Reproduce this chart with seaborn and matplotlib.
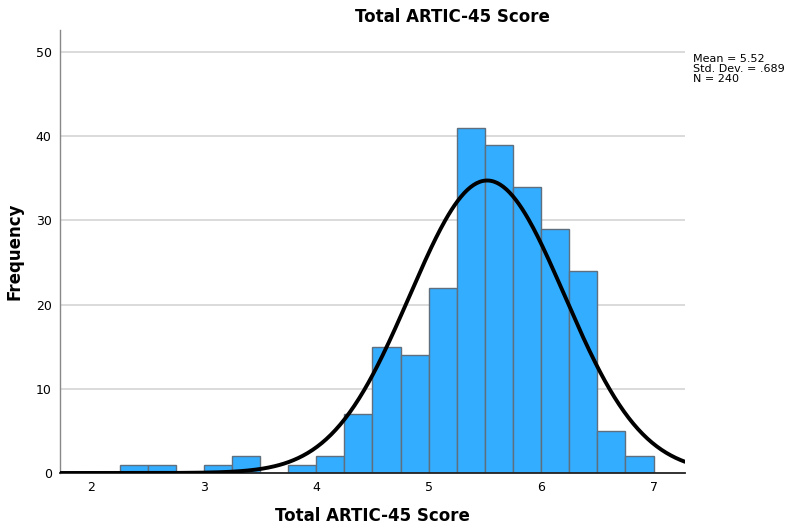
import numpy as np
import pandas as pd
import matplotlib
matplotlib.use("Agg")
import matplotlib.pyplot as plt
import seaborn as sns

# histogram bins (width .25) and counts
bin_left = [2.25, 2.50, 2.75, 3.00, 3.25, 3.50, 3.75, 4.00, 4.25, 4.50,
            4.75, 5.00, 5.25, 5.50, 5.75, 6.00, 6.25, 6.50, 6.75]
counts = [1, 1, 0, 1, 2, 0, 1, 2, 7, 15, 14, 22, 41, 39, 34, 29, 24, 5, 2]
bin_width = 0.25

mean = 5.52
sd = 0.689
n = 240

x_ticks = [2, 3, 4, 5, 6, 7]
y_ticks = [0, 10, 20, 30, 40, 50]

df = pd.DataFrame({"score": np.array(bin_left) + bin_width / 2, "count": counts})
edges = list(bin_left) + [bin_left[-1] + bin_width]

sns.set_style("white")
plt.rcParams["font.family"] = ["DejaVu Sans"]
plt.rcParams["text.color"] = "black"

fig = plt.figure(figsize=(7.86, 5.29), dpi=100)
ax = fig.add_axes([0.0763, 0.1059, 0.7952, 0.8371])

for y in y_ticks[1:]:
    ax.axhline(y, color="#d4d4d4", lw=1.2, zorder=0)

sns.histplot(data=df, x="score", weights="count", bins=edges, ax=ax,
             color="#33adff", edgecolor="#5f6f7d", linewidth=1.0,
             alpha=1, zorder=2)

# fitted normal curve
xs = np.linspace(1.72, 7.28, 400)
ys = n * bin_width / (sd * np.sqrt(2 * np.pi)) * np.exp(-0.5 * ((xs - mean) / sd) ** 2)
sns.lineplot(x=xs, y=ys, ax=ax, color="black", lw=2.8, zorder=3)

ax.set_xlim(1.72, 7.28)
ax.set_ylim(0, 52.6)
ax.set_xticks(x_ticks)
ax.set_yticks(y_ticks)
ax.tick_params(axis="both", labelsize=9, length=0, pad=6, labelcolor="black")

for s in ["top", "right"]:
    ax.spines[s].set_visible(False)
ax.spines["left"].set_color("#888888")
ax.spines["left"].set_linewidth(1.0)
ax.spines["bottom"].set_color("#222222")
ax.spines["bottom"].set_linewidth(1.3)

ax.set_xlabel("Total ARTIC-45 Score", fontsize=12, fontweight="bold", color="black",
              va="center")
ax.set_ylabel("Frequency", fontsize=12, fontweight="bold", color="black",
              va="center", ha="center")
ax.xaxis.set_label_coords(0.5, -0.097)
ax.yaxis.set_label_coords(-0.072, 0.5)

fig.text(0.575, 0.968, "Total ARTIC-45 Score", fontsize=12, fontweight="bold",
         ha="center", va="center")
fig.text(0.882, 0.898, "Mean = 5.52\nStd. Dev. = .689\nN = 240", fontsize=8,
         ha="left", va="top", linespacing=1.0)

fig.savefig("out.png", dpi=100)
